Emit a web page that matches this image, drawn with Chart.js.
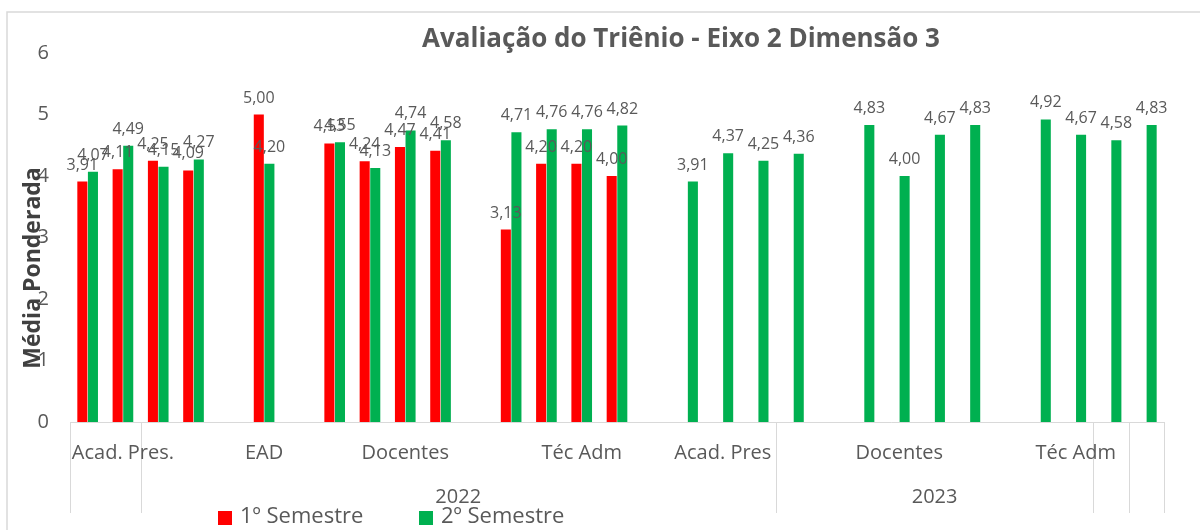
<!DOCTYPE html>
<html lang="pt">
<head>
<meta charset="UTF-8">
<title>Avaliação do Triênio - Eixo 2 Dimensão 3</title>
<script src="https://cdn.jsdelivr.net/npm/chart.js"></script>
<style>
    body { margin: 0; background: #fff; }
    #wrap { width: 1200px; height: 530px; }
</style>
</head>
<body>
<div id="wrap"><canvas id="grafico" width="1200" height="530"></canvas></div>
<script>
// 31 posições no eixo (uma por barra/par de barras)
const categorias = Array.from({ length: 31 }, (_, i) => String(i + 1));

const primeiroSemestre = [3.91, 4.11, 4.25, 4.09, null, 5.00, null, 4.53, 4.24, 4.47, 4.41, null,
    3.13, 4.20, 4.20, 4.00, null, null, null, null, null, null, null, null, null, null, null, null,
    null, null, null];
const segundoSemestre = [4.07, 4.49, 4.15, 4.27, null, 4.20, null, 4.55, 4.13, 4.74, 4.58, null,
    4.71, 4.76, 4.76, 4.82, null, 3.91, 4.37, 4.25, 4.36, null, 4.83, 4.00, 4.67, 4.83, null,
    4.92, 4.67, 4.58, 4.83];

// rótulos do segundo nível e a categoria onde ficam centrados
const grupos = ['Acad. Pres.', 'EAD', 'Docentes', 'Téc Adm', 'Acad. Pres', 'Docentes', 'Téc Adm'];
const grupoCentro = [1, 5, 9, 14, 18, 23, 28];

// anos: primeira e última categoria de cada um
const anos = ['2022', '2023'];
const anoInicio = [2, 20];
const anoFim = [19, 28];

// divisórias do eixo (antes da categoria i)
const divisorias = [0, 2, 20, 29, 30, 31];

const yTicks = [0, 1, 2, 3, 4, 5, 6];

const fonte = "'Open Sans', sans-serif";
const cinza = '#595959';

function fmt(v) {
    return v.toFixed(2).replace('.', ',');
}

const extras = {
    id: 'extras',
    afterDraw(chart) {
        const ctx = chart.ctx;
        const x = chart.scales.x;
        const area = chart.chartArea;
        const passo = x.getPixelForValue(1) - x.getPixelForValue(0);
        ctx.save();

        // moldura
        ctx.strokeStyle = '#d9d9d9';
        ctx.lineWidth = 1.5;
        ctx.beginPath();
        ctx.moveTo(7, 530);
        ctx.lineTo(7, 12);
        ctx.lineTo(1200, 12);
        ctx.stroke();

        // divisórias do eixo x
        ctx.lineWidth = 1;
        ctx.beginPath();
        divisorias.forEach(i => {
            const px = Math.round(x.getPixelForValue(i) - passo / 2) + 0.5;
            ctx.moveTo(px, area.bottom);
            ctx.lineTo(px, 513);
        });
        ctx.stroke();

        // rótulos das categorias
        ctx.fillStyle = cinza;
        ctx.textAlign = 'center';
        ctx.textBaseline = 'middle';
        ctx.font = '20px ' + fonte;
        grupos.forEach((g, i) => {
            ctx.fillText(g, x.getPixelForValue(grupoCentro[i]), 453);
        });
        anos.forEach((a, i) => {
            const c = (x.getPixelForValue(anoInicio[i]) + x.getPixelForValue(anoFim[i])) / 2;
            ctx.fillText(a, c, 497);
        });

        // rótulos de dados
        ctx.font = '16px ' + fonte;
        ctx.textBaseline = 'alphabetic';
        chart.data.datasets.forEach((ds, di) => {
            const meta = chart.getDatasetMeta(di);
            meta.data.forEach((bar, i) => {
                const v = ds.data[i];
                if (v == null) return;
                ctx.fillText(fmt(v), bar.x, bar.y - 12);
            });
        });

        // título
        ctx.font = 'bold 26px ' + fonte;
        ctx.textBaseline = 'middle';
        ctx.fillText('Avaliação do Triênio - Eixo 2 Dimensão 3', 681, 40);

        // título do eixo y
        ctx.save();
        ctx.translate(40, 268);
        ctx.rotate(-Math.PI / 2);
        ctx.fillStyle = '#404040';
        ctx.font = 'bold 23px ' + fonte;
        ctx.textBaseline = 'alphabetic';
        ctx.fillText('Média Ponderada', 0, 0);
        ctx.restore();

        // legenda
        const legX = [218, 419];
        ctx.font = '22px ' + fonte;
        ctx.textAlign = 'left';
        ctx.textBaseline = 'middle';
        chart.data.datasets.forEach((ds, di) => {
            ctx.fillStyle = ds.backgroundColor;
            ctx.fillRect(legX[di], 511, 14, 14);
            ctx.fillStyle = cinza;
            ctx.fillText(ds.label, legX[di] + 22, 517);
        });

        ctx.restore();
    }
};

new Chart(document.getElementById('grafico'), {
    type: 'bar',
    data: {
        labels: categorias,
        datasets: [
            { label: '1º Semestre', data: primeiroSemestre, backgroundColor: '#ff0000' },
            { label: '2º Semestre', data: segundoSemestre, backgroundColor: '#00b050' }
        ]
    },
    options: {
        responsive: false,
        animation: false,
        categoryPercentage: 0.6,
        barPercentage: 0.95,
        layout: { padding: { top: 53, right: 36, left: 0, bottom: 0 } },
        plugins: {
            legend: { display: false },
            title: { display: false },
            tooltip: { enabled: false }
        },
        scales: {
            x: {
                ticks: { display: false },
                grid: { display: false },
                border: { display: true, color: '#d9d9d9', width: 1 },
                afterFit(scale) { scale.height = 108; }
            },
            y: {
                min: 0,
                max: 6,
                afterBuildTicks(scale) { scale.ticks = yTicks.map(v => ({ value: v })); },
                ticks: {
                    color: cinza,
                    padding: 21,
                    font: { family: fonte, size: 20 }
                },
                grid: { display: false, drawTicks: false },
                border: { display: false },
                afterFit(scale) { scale.width = 70; }
            }
        }
    },
    plugins: [extras]
});
</script>
</body>
</html>
